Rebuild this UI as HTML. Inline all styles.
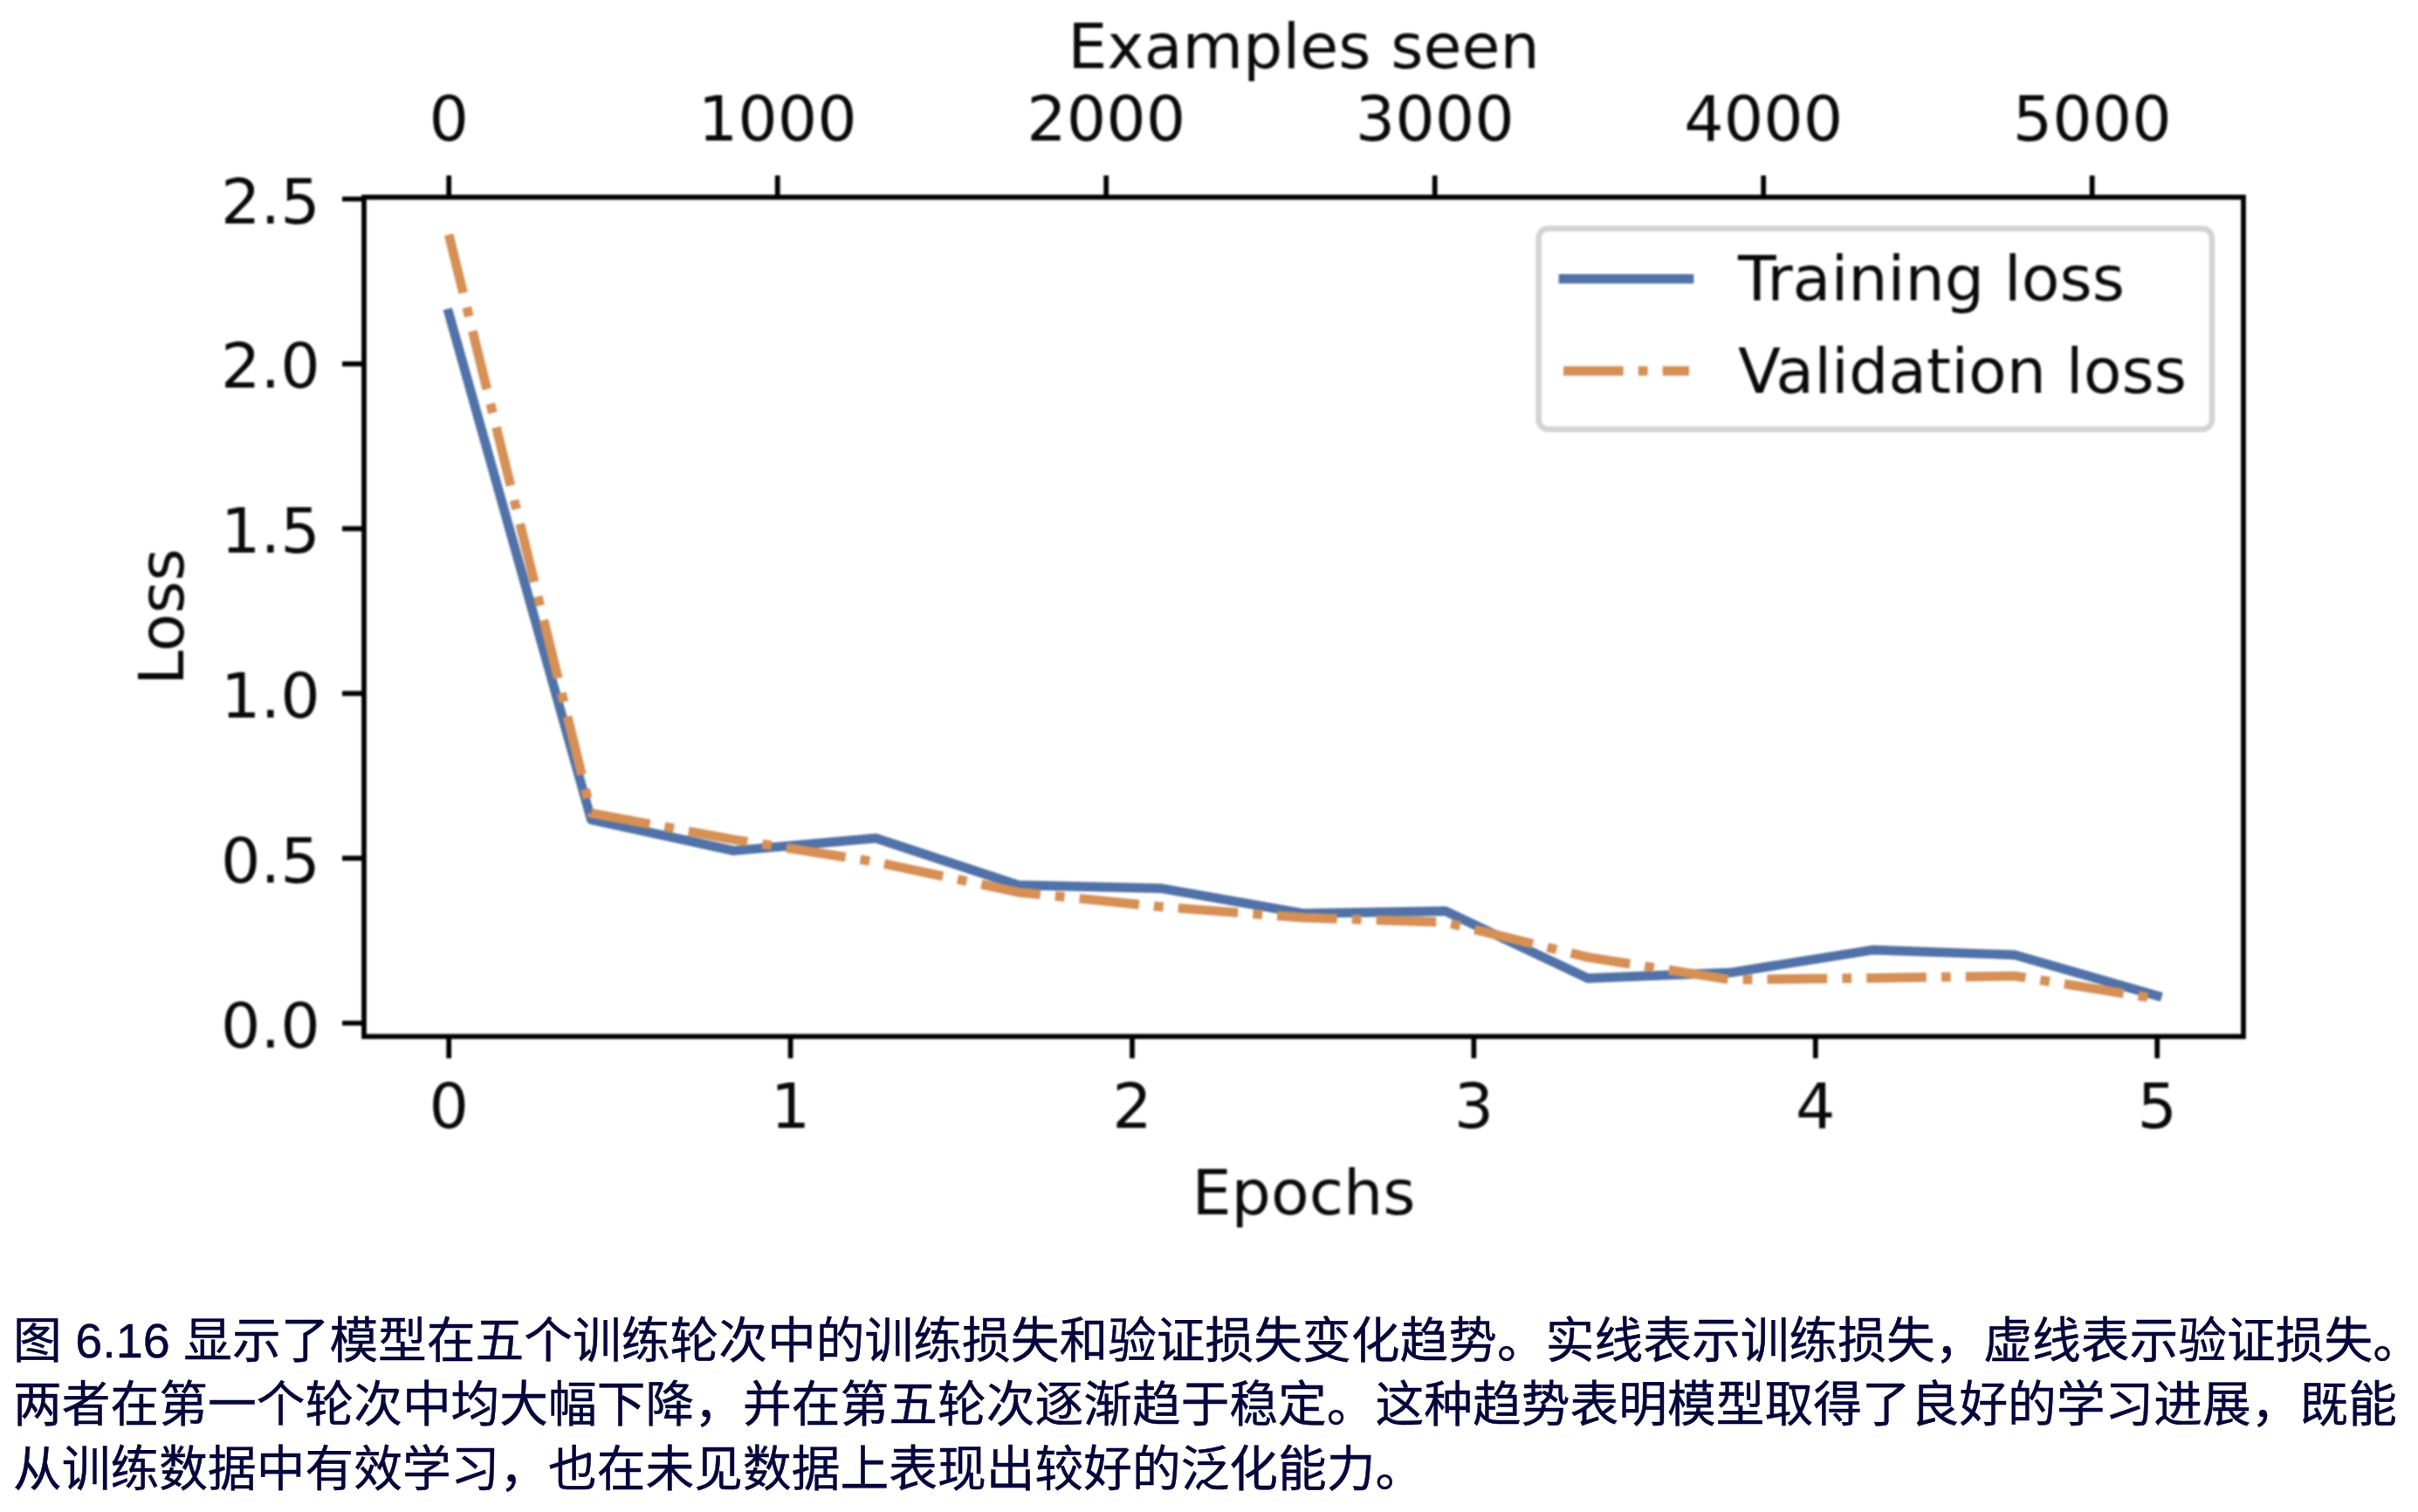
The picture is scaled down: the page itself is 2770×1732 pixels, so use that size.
<!DOCTYPE html>
<html lang="zh-CN"><head><meta charset="utf-8"><title>图 6.16</title>
<style>
html,body{margin:0;padding:0;background:#fff;}
body{width:2770px;height:1732px;position:relative;overflow:hidden;}
.cap{position:absolute;left:15px;white-space:nowrap;font-family:"Liberation Sans","Noto Sans CJK SC",sans-serif;font-size:55.74px;line-height:72.5px;color:#06063c;-webkit-text-stroke:0.45px #06063c;height:72.5px;}
</style></head><body>
<svg width="2770" height="1732" viewBox="0 0 2770 1732" style="position:absolute;left:0;top:0;filter:blur(1.2px)">
<g font-family="'DejaVu Sans', 'Liberation Sans', sans-serif" font-size="71.5" fill="#0a0a0a">
<polyline points="514.2,359.0 677.3,939.0 840.4,974.5 1003.5,960.2 1166.5,1013.8 1329.6,1017.6 1492.7,1046.3 1655.8,1043.6 1818.9,1120.6 1982.0,1114.2 2145.0,1088.2 2308.1,1093.8 2471.2,1140.7" fill="none" stroke="#5072A8" stroke-width="10.7" stroke-linecap="square" stroke-linejoin="round"/>
<polyline points="514.2,268.8 677.3,931.5 840.4,961.7 1003.5,987.4 1166.5,1022.1 1329.6,1038.7 1492.7,1051.2 1655.8,1056.5 1818.9,1096.5 1982.0,1122.2 2145.0,1120.3 2308.1,1118.0 2471.2,1144.1" fill="none" stroke="#D68F55" stroke-width="10.7" stroke-linejoin="round" stroke-dasharray="68.64 17.16 10.73 17.16"/>
<rect x="417.0" y="225.9" width="2153.0" height="961.4" fill="none" stroke="#000" stroke-width="5.72"/>
<text x="514.2" y="1292.4" text-anchor="middle">0</text>
<text x="905.6" y="1292.4" text-anchor="middle">1</text>
<text x="1297.0" y="1292.4" text-anchor="middle">2</text>
<text x="1688.4" y="1292.4" text-anchor="middle">3</text>
<text x="2079.8" y="1292.4" text-anchor="middle">4</text>
<text x="2471.2" y="1292.4" text-anchor="middle">5</text>
<text x="514.2" y="161.0" text-anchor="middle">0</text>
<text x="890.7" y="161.0" text-anchor="middle">1000</text>
<text x="1267.2" y="161.0" text-anchor="middle">2000</text>
<text x="1643.7" y="161.0" text-anchor="middle">3000</text>
<text x="2020.2" y="161.0" text-anchor="middle">4000</text>
<text x="2396.7" y="161.0" text-anchor="middle">5000</text>
<text x="366.8" y="1199.6" text-anchor="end">0.0</text>
<text x="366.8" y="1010.8" text-anchor="end">0.5</text>
<text x="366.8" y="822.0" text-anchor="end">1.0</text>
<text x="366.8" y="633.2" text-anchor="end">1.5</text>
<text x="366.8" y="444.4" text-anchor="end">2.0</text>
<text x="366.8" y="255.6" text-anchor="end">2.5</text>
<path d="M514.2 1187.3v25.0M905.6 1187.3v25.0M1297.0 1187.3v25.0M1688.4 1187.3v25.0M2079.8 1187.3v25.0M2471.2 1187.3v25.0M514.2 225.9v-25.0M890.7 225.9v-25.0M1267.2 225.9v-25.0M1643.7 225.9v-25.0M2020.2 225.9v-25.0M2396.7 225.9v-25.0M417.0 1172.0h-25.0M417.0 983.2h-25.0M417.0 794.4h-25.0M417.0 605.6h-25.0M417.0 416.8h-25.0M417.0 228.0h-25.0" stroke="#000" stroke-width="5.72" fill="none"/>
<text x="1493.5" y="77.6" text-anchor="middle">Examples seen</text>
<text x="1493.5" y="1391.0" text-anchor="middle">Epochs</text>
<text transform="translate(209.7 706.6) rotate(-90)" text-anchor="middle">Loss</text>
<rect x="1762.6" y="261.9" width="771.4" height="229.8" rx="11" ry="11" fill="#fff" fill-opacity="0.8" stroke="#d3d3d3" stroke-width="6.6"/>
<path d="M1791 319.3h144" stroke="#5072A8" stroke-width="10.7" stroke-linecap="square" fill="none"/>
<path d="M1791 424.8h144" stroke="#D68F55" stroke-width="10.7" stroke-dasharray="68.64 17.16 10.73 17.16" fill="none"/>
<text x="1991" y="344">Training loss</text>
<text x="1991" y="449.5">Validation loss</text>
</g></svg>
<div class="cap" id="c1" style="top:1500px">图 6.16 显示了模型在五个训练轮次中的训练损失和验证损失变化趋势。实线表示训练损失，虚线表示验证损失。</div>
<div class="cap" id="c2" style="top:1572.5px">两者在第一个轮次中均大幅下降，并在第五轮次逐渐趋于稳定。这种趋势表明模型取得了良好的学习进展，既能</div>
<div class="cap" id="c3" style="top:1646.5px">从训练数据中有效学习，也在未见数据上表现出较好的泛化能力。</div>
</body></html>
